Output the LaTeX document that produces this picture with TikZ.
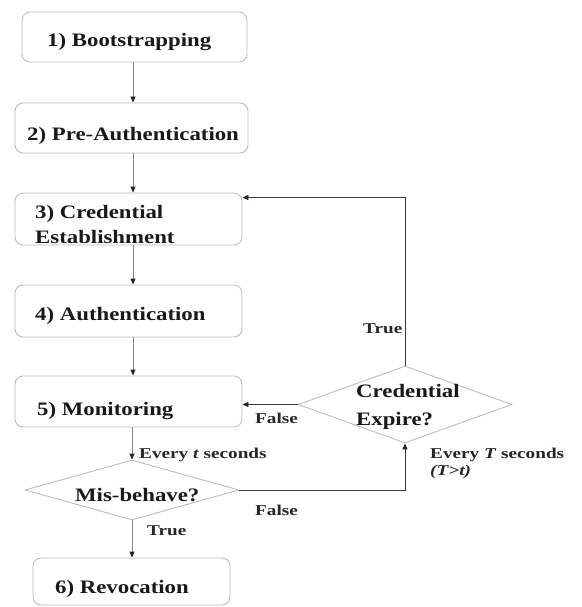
\documentclass[tikz,border=0pt]{standalone}
\usepackage{fontspec}
\setmainfont{Liberation Serif}[FakeStretch=1.2]
\newfontfamily\lblfont{Liberation Serif}[FakeStretch=1.28]
\usetikzlibrary{shapes.geometric,arrows.meta}
\definecolor{boxgray}{HTML}{BDBDBD}
\definecolor{linegray}{HTML}{8A8A8A}
\definecolor{loopdark}{HTML}{3A3A3A}
\begin{document}
\begin{tikzpicture}[x=1pt,y=-1pt,
  box/.style={draw=boxgray, rounded corners=8pt, line width=0.9pt, inner sep=0pt},
  dia/.style={draw=boxgray, diamond, line width=0.9pt, inner sep=0pt},
  txt/.style={font=\bfseries\fontsize{19}{26}\selectfont, inner sep=0pt, anchor=base west, text=black!90},
  lbl/.style={font=\lblfont\bfseries\fontsize{15}{17}\selectfont, inner sep=0pt, anchor=base west, text=black!85},
  arr/.style={draw=linegray, line width=0.9pt, -{Triangle[length=6pt,width=5pt,color=black!85]}},
  looparr/.style={draw=loopdark, line width=0.9pt, -{Triangle[length=6pt,width=5pt,color=black!85]}}
]
\useasboundingbox (0,0) rectangle (581,607);
\fill[white] (0,0) rectangle (581,607);

% boxes
\node[box, minimum width=225pt, minimum height=50pt] (b1) at (134.5,37) {};
\node[box, minimum width=233pt, minimum height=50pt] (b2) at (131.5,128) {};
\node[box, minimum width=227pt, minimum height=52pt] (b3) at (128.5,219) {};
\node[box, minimum width=227pt, minimum height=52pt] (b4) at (128.5,311) {};
\node[box, minimum width=227pt, minimum height=51pt] (b5) at (128.5,401.5) {};
\node[dia, minimum width=214pt, minimum height=60pt] (d1) at (132,490) {};
\node[box, minimum width=197pt, minimum height=47pt] (b6) at (131.5,581.5) {};
\node[dia, minimum width=214pt, minimum height=77pt] (d2) at (405,404.5) {};

% texts
\node[txt] (t1) at (47,47) {1) Bootstrapping};
\node[txt] (t2) at (27,140) {2) Pre-Authentication};
\node[txt] (t3a) at (35,218) {3) Credential};
\node[txt] (t3b) at (35,243) {Establishment};
\node[txt] (t4) at (35,320) {4) Authentication};
\node[txt] (t5) at (37,415) {5) Monitoring};
\node[txt] (td1) at (75,501) {Mis-behave?};
\node[txt] (t6) at (55,593) {6) Revocation};
\node[txt] (td2a) at (356,397) {Credential};
\node[txt] (td2b) at (356,425) {Expire?};

% labels
\node[lbl] (lTrueUp) at (363,333) {True};
\node[lbl] (lFalseUp) at (255,423) {False};
\node[lbl] (lEvery) at (139,458) {Every \textit{t} seconds};
\node[lbl] (lFalseLow) at (255,515) {False};
\node[lbl] (lTrueLow) at (147,535) {True};
\node[lbl] (lEveryT) at (430,458) {Every \textit{T} seconds};
\node[lbl] (lTt) at (430,475) {\textit{(T>t)}};

% connectors
\coordinate (ax) at (133,0);
\draw[arr] (b1.south -| ax) -- (b2.north -| ax);
\draw[arr] (b2.south -| ax) -- (b3.north -| ax);
\draw[arr] (b3.south -| ax) -- (b4.north -| ax);
\draw[arr] (b4.south -| ax) -- (b5.north -| ax);
\draw[arr] (b5.south -| d1.north) -- (d1.north);
\draw[arr] (d1.south) -- (b6.north -| d1.south);
\draw[looparr] (d1.east) -| (d2.south);
\draw[looparr] (d2.west) -- (d2.west -| b5.east);
\draw[looparr] (d2.north) |- ([yshift=-5pt]b3.north east);
\end{tikzpicture}
\end{document}
